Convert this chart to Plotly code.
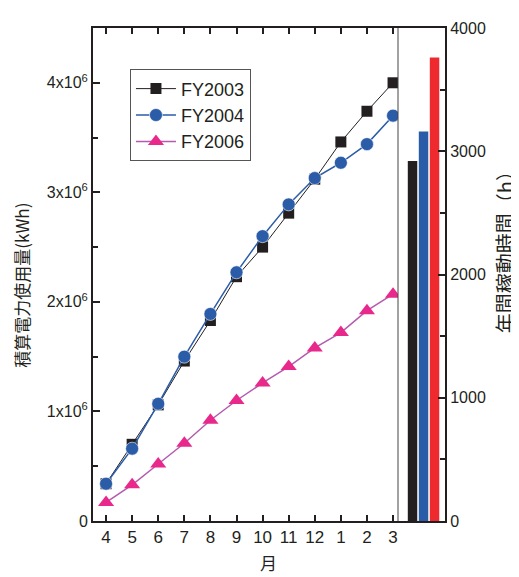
import plotly.graph_objects as go

months = ["4", "5", "6", "7", "8", "9", "10", "11", "12", "1", "2", "3"]
fy2003 = [0.34e6, 0.70e6, 1.06e6, 1.46e6, 1.83e6, 2.23e6, 2.50e6, 2.81e6, 3.12e6, 3.46e6, 3.74e6, 4.00e6]
fy2004 = [0.34e6, 0.66e6, 1.07e6, 1.50e6, 1.89e6, 2.27e6, 2.60e6, 2.89e6, 3.13e6, 3.27e6, 3.44e6, 3.70e6]
fy2006 = [0.17e6, 0.33e6, 0.52e6, 0.71e6, 0.92e6, 1.10e6, 1.26e6, 1.41e6, 1.58e6, 1.72e6, 1.92e6, 2.07e6]
years = ["FY2003", "FY2004", "FY2006"]
hours = [2920, 3160, 3760]
y_tickvals = [0, 1e6, 2e6, 3e6, 4e6]
y_ticktext = ["0", "1x10<sup>6</sup>", "2x10<sup>6</sup>", "3x10<sup>6</sup>", "4x10<sup>6</sup>"]

BLACK = "#231f20"
BLUE = "#2b5ca8"
PINK = "#e8288a"
PURPLE = "#b45ab0"
RED = "#ee2a2f"
FONT = "Liberation Sans, Arial, sans-serif"
CJK = "Noto Sans CJK JP"

xpos = list(range(len(months)))
split = (398 - 93) / 352.0

fig = go.Figure()
fig.add_trace(go.Scatter(x=xpos, y=fy2003, name="FY2003", mode="lines+markers",
                         line=dict(color=BLACK, width=1),
                         marker=dict(symbol="square", size=11, color=BLACK)))
fig.add_trace(go.Scatter(x=xpos, y=fy2004, name="FY2004", mode="lines+markers",
                         line=dict(color=BLUE, width=1.5),
                         marker=dict(symbol="circle", size=13, color=BLUE,
                                     line=dict(color="white", width=0.6))))
fig.add_trace(go.Scatter(x=xpos, y=fy2006, name="FY2006", mode="lines+markers",
                         line=dict(color=PURPLE, width=1.5),
                         marker=dict(symbol="triangle-up", size=14, color=PINK)))
fig.add_trace(go.Bar(x=years, y=hours, xaxis="x2", yaxis="y2",
                     marker=dict(color=[BLACK, BLUE, RED], line=dict(width=0)),
                     showlegend=False))

# the page body has an 8px margin; compensate so the plot area sits at 93..445 x 21..521
fig.update_layout(
    width=511, height=569,
    margin=dict(l=85, r=74, t=13, b=56),
    plot_bgcolor="white", paper_bgcolor="white",
    font=dict(family=FONT, size=16, color="#231f20"),
    showlegend=True,
    legend=dict(x=0.105, y=0.916, xanchor="left", yanchor="top",
                bgcolor="white", bordercolor="#555555", borderwidth=1,
                font=dict(size=18, family=FONT), tracegroupgap=0,
                itemwidth=40),
    bargap=0.14,
    xaxis=dict(domain=[0, split], range=[-0.5, 11.19],
               tickvals=xpos, ticktext=months,
               ticks="inside", ticklen=6, tickwidth=1.5, tickcolor=BLACK,
               showline=True, linewidth=2, linecolor=BLACK, mirror="ticks",
               showgrid=False, zeroline=False,
               tickfont=dict(size=17)),
    xaxis2=dict(domain=[split, 1], anchor="y2", range=[-1.32, 2.95],
                showticklabels=False, ticks="",
                showline=True, linewidth=2, linecolor=BLACK, mirror=True,
                showgrid=False, zeroline=False),
    yaxis=dict(range=[0, 4.5e6], tickvals=y_tickvals, ticktext=y_ticktext,
               ticks="inside", ticklen=7, tickwidth=1.5, tickcolor=BLACK,
               showline=True, linewidth=2, linecolor=BLACK,
               showgrid=False, zeroline=False,
               minor=dict(tickvals=[0.5e6, 1.5e6, 2.5e6, 3.5e6], ticks="inside",
                          ticklen=5, tickwidth=1.5, tickcolor=BLACK),
               tickfont=dict(size=16)),
    yaxis2=dict(range=[0, 4000], overlaying="y", side="right", anchor="x2",
                tickvals=[0, 1000, 2000, 3000, 4000],
                ticks="inside", ticklen=7, tickwidth=1.5, tickcolor=BLACK,
                showline=True, linewidth=2, linecolor=BLACK,
                showgrid=False, zeroline=False,
                minor=dict(tickvals=[500, 1500, 2500, 3500], ticks="inside",
                           ticklen=5, tickwidth=1.5, tickcolor=BLACK),
                tickfont=dict(size=16)),
    shapes=[dict(type="line", xref="paper", yref="paper", x0=split, x1=split,
                 y0=0, y1=1, line=dict(color="#444444", width=1))],
    annotations=[
        dict(text="積算電力使用量(kWh)", xref="paper", yref="paper",
             x=-0.202, y=0.479, textangle=-90, showarrow=False,
             font=dict(family=CJK, size=17, color=BLACK),
             xanchor="center", yanchor="middle"),
        dict(text="年間稼動時間（h）", xref="paper", yref="paper",
             x=1.170, y=0.555, textangle=-90, showarrow=False,
             font=dict(family=CJK, size=20, color=BLACK),
             xanchor="center", yanchor="middle"),
        dict(text="月", xref="paper", yref="paper",
             x=0.498, y=-0.084, showarrow=False,
             font=dict(family=CJK, size=17, color=BLACK),
             xanchor="center", yanchor="middle"),
    ],
)

fig.write_html("out.html")
